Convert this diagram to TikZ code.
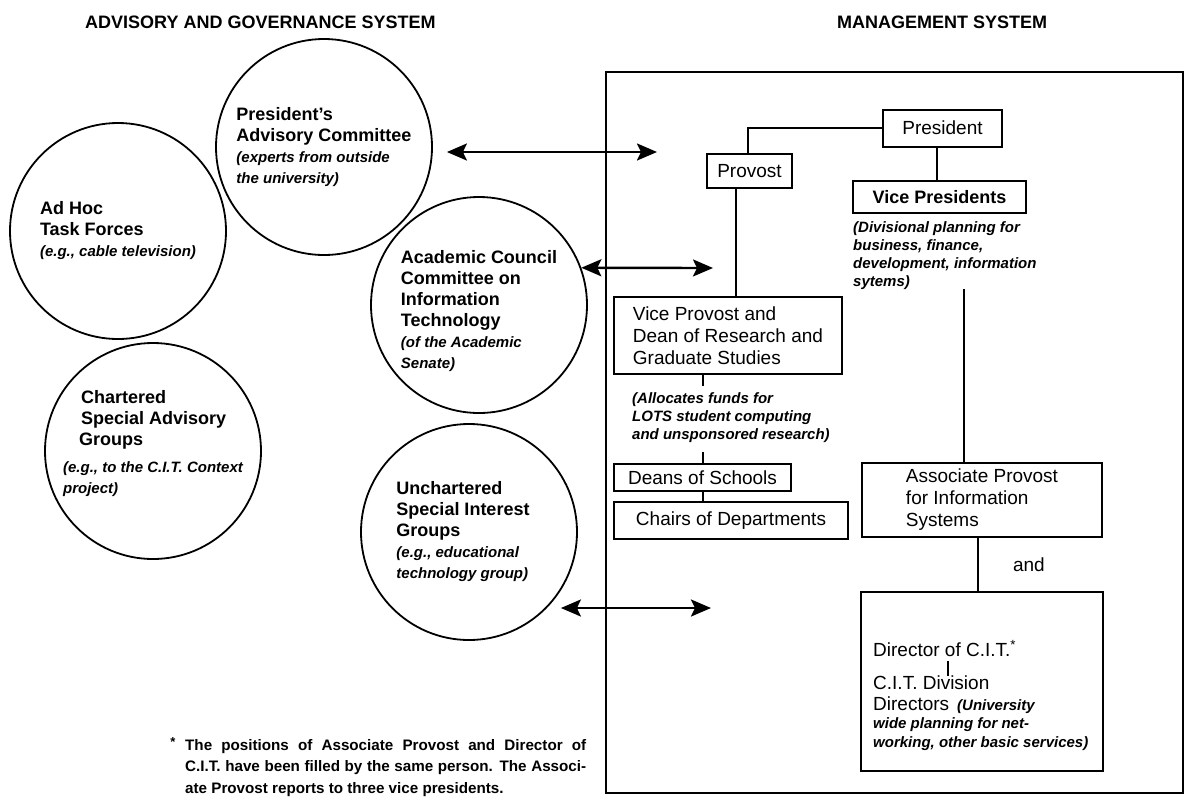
\documentclass[tikz,border=0pt]{standalone}
\usepackage{fontspec}
\setmainfont{Liberation Sans}
\usetikzlibrary{arrows.meta, positioning, calc}

\newcommand{\notefont}{\fontsize{15}{18}\selectfont\bfseries\itshape}

\begin{document}
\begin{tikzpicture}[x=1pt, y=-1pt,
  circ/.style={draw, circle, minimum size=216pt, inner sep=0pt, line width=1.8pt},
  ctxt/.style={align=left, inner sep=0pt, font=\fontsize{18}{21}\selectfont\bfseries},
  orgbox/.style={draw, line width=2pt, inner sep=0pt, font=\fontsize{19}{22}\selectfont},
  note/.style={align=left, inner sep=0pt, font=\notefont},
  heading/.style={inner sep=0pt, font=\fontsize{18}{21}\selectfont\bfseries},
  link/.style={line width=2pt},
  bi/.style={{Stealth[length=20pt,width=17pt,inset=4pt]}-{Stealth[length=20pt,width=17pt,inset=4pt]}, line width=2.4pt}]
\useasboundingbox (0,0) rectangle (1186,796);

% titles
\node[heading, anchor=base west] (advtitle) at (85,28.5) {ADVISORY AND GOVERNANCE SYSTEM};
\node[heading, anchor=base west] (mgmttitle) at (837,28) {MANAGEMENT SYSTEM};

% advisory and governance circles
\node[circ] (presadv) at (324,147) {};
\node[ctxt] (presadvtxt) at (presadv) {President's\\Advisory Committee\\{\notefont(experts from outside}\\{\notefont the university)}};
\node[circ] (adhoc) at (118,231) {};
\node[ctxt] (adhoctxt) at (adhoc) {Ad Hoc\\Task Forces\\{\notefont(e.g., cable television)}};
\node[circ] (acad) at (479,305) {};
\node[ctxt, yshift=-6pt] (acadtxt) at (acad) {Academic Council\\Committee on\\Information\\Technology\\{\notefont(of the Academic}\\{\notefont Senate)}};
\node[circ] (chart) at (153,451) {};
\node[ctxt, yshift=7pt] (charttxt) at (chart) {\hspace*{18pt}Chartered\\\hspace*{18pt}Special Advisory\\\hspace*{16pt}Groups\\[6pt]{\notefont(e.g., to the C.I.T. Context}\\{\notefont project)}};
\node[circ] (unchart) at (469,532) {};
\node[ctxt, xshift=-6pt] (unchartxt) at (unchart) {Unchartered\\Special Interest\\Groups\\{\notefont(e.g., educational}\\{\notefont technology group)}};

% management system frame
\draw[line width=2pt] (606,72) rectangle (1183,793);

\node[orgbox, minimum width=119pt, minimum height=37pt] (pres) at (942.5,128) {President};
\node[orgbox, minimum width=85pt, minimum height=34pt] (prov) at (749.5,171) {Provost};
\node[orgbox, minimum width=173pt, minimum height=32pt, font=\fontsize{18}{21}\selectfont\bfseries] (vp) at (939.5,197) {Vice Presidents};
\node[note, anchor=north west] (vpnote) at (853,221) {(Divisional planning for\\business, finance,\\development, information\\sytems)};
\node[orgbox, minimum width=228pt, minimum height=77pt, align=left] (vprov) at (728,335.5) {Vice Provost and\\Dean of Research and\\Graduate Studies};
\node[note, anchor=north west] (alloc) at (632,392) {(Allocates funds for\\LOTS student computing\\and unsponsored research)};
\node[orgbox, minimum width=177pt, minimum height=27pt] (deans) at (702.5,477.5) {Deans of Schools};
\node[orgbox, minimum width=234pt, minimum height=37pt] (chairs) at (731,520.5) {Chairs of Departments};
\node[orgbox, minimum width=240pt, minimum height=74pt, align=left] (assoc) at (982,500) {Associate Provost\\for Information\\Systems};
\node[orgbox, minimum width=242pt, minimum height=179pt] (dirbox) at (982,681.5) {};
\node[anchor=base west, inner sep=0pt, font=\fontsize{19}{22}\selectfont] (dircit) at (873,656) {Director of C.I.T.\textsuperscript{*}};
\node[anchor=north west, align=left, inner sep=0pt, font=\fontsize{19}{21}\selectfont] (divdir) at (873,676) {C.I.T. Division\\Directors\hspace{8pt}{\notefont(University}\\[-3pt]{\notefont wide planning for net-}\\[-2pt]{\notefont working, other basic services)}};

% reporting lines
\draw[link] (pres.west) -| ($(prov.north)+(-1.5,0)$);
\draw[link] ($(pres.south)+(-5.5,0)$) -- ($(pres.south |- vp.north)+(-5.5,0)$);
\draw[link] ($(prov.south)+(-13.5,0)$) -- ($(prov.south |- vprov.north)+(-13.5,0)$);
\draw[link] (vprov.south -| deans.north) -- ++(0,11);
\draw[link] (deans.north) -- ++(0,-11);
\draw[link] (deans.south) -- (deans.south |- chairs.north);
\draw[link] ($(assoc.north)+(-18,0)$) -- ++(0,-173);
\draw[link] ($(assoc.south)+(-4,0)$) -- node[right=34pt, inner sep=0pt, font=\fontsize{19}{22}\selectfont] (andtxt) {and} ($(dirbox.north)+(-4,0)$);
\draw[line width=1.4pt] ($(dircit.south west)+(75,5)$) -- ($(divdir.north west)+(75,0)$);

% two-way links
\coordinate (tipA) at (657,152);
\coordinate (tipB) at (713,268);
\coordinate (tipC) at (711,608);
\draw[bi] ($(tipA -| presadv.east)+(14,0)$) -- (tipA);
\draw[bi] (acad.20) -- (tipB);
\draw[bi] ($(tipC -| unchart.east)+(-17,0)$) -- (tipC);

% footnote
\node[inner sep=0pt, font=\fontsize{13}{13}\selectfont\bfseries] (fstar) at (173,742) {*};
\node[anchor=north west, text width=401pt, align=justify, inner sep=0pt, font=\fontsize{15.2}{21.5}\selectfont\bfseries] (fnote) at (185,739) {\sloppy The positions of Associate Provost and Director of\linebreak C.I.T. have been filled by the same person. The Associ-\linebreak ate Provost reports to three vice presidents.};
\end{tikzpicture}
\end{document}
